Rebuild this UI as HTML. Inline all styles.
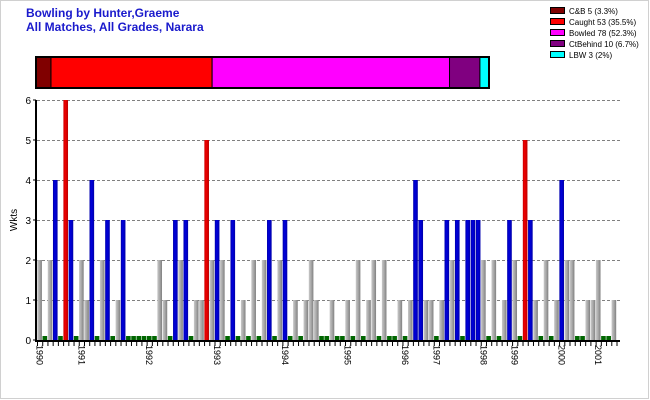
<!DOCTYPE html>
<html><head><meta charset="utf-8"><style>
body{margin:0;background:#fff}
svg{display:block;font-family:"Liberation Sans",sans-serif}
</style></head><body>
<svg id="chart" width="650" height="400">
<defs>
<linearGradient id="gg" x1="0" x2="1"><stop offset="0" stop-color="#c8c8c8"/><stop offset="0.5" stop-color="#a8a8a8"/><stop offset="1" stop-color="#808080"/></linearGradient>
<linearGradient id="gb" x1="0" x2="1"><stop offset="0" stop-color="#0000aa"/><stop offset="0.4" stop-color="#0000dd"/><stop offset="1" stop-color="#0000aa"/></linearGradient>
<linearGradient id="gr" x1="0" x2="1"><stop offset="0" stop-color="#cc0000"/><stop offset="0.4" stop-color="#ee0000"/><stop offset="1" stop-color="#bb0000"/></linearGradient>
</defs>
<rect x="0.5" y="0.5" width="648" height="398" fill="#fff" stroke="#d0d0d0"/>
<text x="26" y="17" font-size="12" font-weight="bold" fill="#1a1acc">Bowling by Hunter,Graeme</text>
<text x="26" y="31" font-size="12" font-weight="bold" fill="#1a1acc">All Matches, All Grades, Narara</text>
<g id="summary"></g>
<g id="legend"></g>
<g id="grid"></g>
<g id="bars"></g>
<g id="axes"></g>
<text transform="translate(17,220) rotate(-90)" font-size="10" text-anchor="middle">Wkts</text>
</svg>
<script>
const dismissLabels=["C&B 5 (3.3%)","Caught 53 (35.5%)","Bowled 78 (52.3%)","CtBehind 10 (6.7%)","LBW 3 (2%)"];
const dismissPct=[3.3,35.5,52.3,6.7,2];
const dismissColors=["#800000","#ff0000","#ff00ff","#800080","#00ffff"];
// per-match wickets
const wickets=[2,0,2,4,0,6,3,0,2,1,4,0,2,3,0,1,3,0,0,0,0,0,0,2,1,0,3,2,3,0,1,1,5,2,3,2,0,3,0,1,0,2,0,2,3,0,2,3,0,1,0,1,2,1,0,0,1,0,0,1,0,2,0,1,2,0,2,0,0,1,0,1,4,3,1,1,0,1,3,2,3,0,3,3,3,2,0,2,0,1,3,2,0,5,3,1,0,2,0,1,4,2,2,0,0,1,1,2,0,0,1];
// type: g=no wickets-taken highlight, b=3+ wickets, r=5+
const barType=["g","z","g","b","z","r","b","z","g","g","b","z","g","b","z","g","b","z","z","z","z","z","z","g","g","z","b","g","b","z","g","g","r","g","b","g","z","b","z","g","z","g","z","g","b","z","g","b","z","g","z","g","g","g","z","z","g","z","z","g","z","g","z","g","g","z","g","z","z","g","z","g","b","b","g","g","z","g","b","g","b","z","b","b","b","g","z","g","z","g","b","g","z","r","b","g","z","g","z","g","b","g","g","z","z","g","g","g","z","z","g"];
const yearLabels=["1990","1991","1992","1993","1994","1995","1996","1997","1998","1999","2000","2001"];
const yearSlots=[0,8,21,34,47,59,70,76,85,91,100,107];
const yTicks=[0,1,2,3,4,5,6];

const NS="http://www.w3.org/2000/svg";
function mk(tag,attrs,parent){const e=document.createElementNS(NS,tag);for(const k in attrs)e.setAttribute(k,attrs[k]);parent.appendChild(e);return e;}
const X0=37,X1=616.5,Y0=340,YT=100;
const slotW=(X1-X0)/wickets.length;
const xs=i=>X0+i*slotW;
const ys=v=>Y0-(v/6)*(Y0-YT);

// summary bar
const sum=document.getElementById('summary');
const sx0=36,sx1=489;let acc=0;const tot=dismissPct.reduce((a,b)=>a+b,0);
dismissPct.forEach((p,i)=>{const x=sx0+acc/tot*(sx1-sx0);const w=p/tot*(sx1-sx0);acc+=p;
 const r=mk('rect',{x:x,y:57,width:w,height:31,fill:dismissColors[i],stroke:'#000','stroke-width':1},sum);
 
 });
mk('rect',{x:sx0,y:57,width:sx1-sx0,height:31,fill:'none',stroke:'#000','stroke-width':2},sum);

// legend
const lg=document.getElementById('legend');
dismissLabels.forEach((l,i)=>{const y=7+i*11;
 const g=mk('g',{},lg);
 
 
 mk('rect',{x:550.5,y:y+0.5,width:14,height:6,fill:dismissColors[i],stroke:'#000'},g);
 const t=mk('text',{x:569,y:y+7,'font-size':8,fill:'#000'},g);t.textContent=l;});

// grid
const gr=document.getElementById('grid');
yTicks.forEach(v=>{if(v>0){const l=mk('line',{x1:X0,x2:620,y1:ys(v)+0.5,y2:ys(v)+0.5,stroke:'#808080','stroke-dasharray':'3,2'},gr);
 }});

// bars
const bg=document.getElementById('bars');
const fills={g:'url(#gg)',b:'url(#gb)',r:'url(#gr)'};
wickets.forEach((v,i)=>{const t=barType[i];let r;
 if(v===0||t==='z'){r=mk('rect',{x:xs(i)+0.3,y:Y0-4,width:slotW-0.6,height:4,fill:'#006600'},bg);}
 else{r=mk('rect',{x:xs(i)+0.3,y:ys(v),width:slotW-0.6,height:Y0-ys(v),fill:fills[t]||fills.g},bg);}
 
 });

// axes
const ax=document.getElementById('axes');
mk('line',{x1:X0-1,x2:X0-1,y1:YT,y2:Y0+1,stroke:'#000','stroke-width':2},ax);
mk('line',{x1:X0-2,x2:620,y1:Y0+1,y2:Y0+1,stroke:'#000','stroke-width':2},ax);
yTicks.forEach(v=>{mk('line',{x1:X0-4,x2:X0-1,y1:ys(v),y2:ys(v),stroke:'#000'},ax);
 const t=mk('text',{x:X0-6,y:ys(v)+4,'font-size':10,'text-anchor':'end'},ax);t.textContent=v;
 });
for(let i=0;i<=wickets.length;i++){mk('line',{x1:xs(i)+0.5,x2:xs(i)+0.5,y1:Y0+2,y2:Y0+6,stroke:'#000'},ax);}
yearLabels.forEach((l,k)=>{const x=xs(yearSlots[k])+slotW/2;
 const t=mk('text',{transform:`translate(${x-3},345) rotate(90)`,'font-size':9},ax);t.textContent=l;
 });
</script>
</body></html>
